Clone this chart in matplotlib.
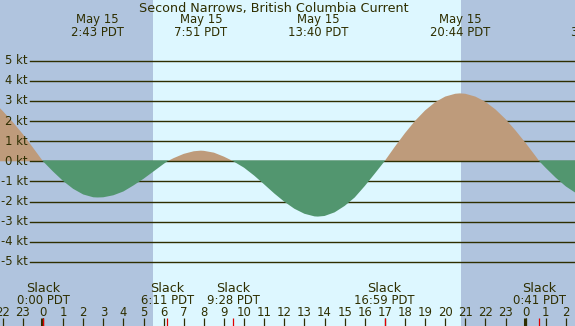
"""Tidal current chart: Second Narrows, British Columbia, May 15."""

import matplotlib

matplotlib.use("Agg")
import matplotlib.pyplot as plt
import numpy as np

# --- data (hours from May 15 00:00 PDT, current in knots) -----------------
TIME_H = [
    -2.5, -2.0, -1.5, -1.0, -0.5, 0.0, 0.5, 1.0, 1.5, 2.0, 2.5, 2.717,
    3.0, 3.5, 4.0, 4.5, 5.0, 5.5, 6.0, 6.183, 6.5, 7.0, 7.5, 7.85,
    8.0, 8.5, 9.0, 9.467, 10.0, 10.5, 11.0, 11.5, 12.0, 12.5, 13.0, 13.5,
    13.667, 14.0, 14.5, 15.0, 15.5, 16.0, 16.5, 16.983, 17.5, 18.0, 18.5,
    19.0, 19.5, 20.0, 20.5, 20.733, 21.0, 21.5, 22.0, 22.5, 23.0, 23.5,
    24.0, 24.5, 24.683, 25.0, 25.5, 26.0, 26.5, 27.0,
]
CURRENT_KT = [
    3.00, 2.50, 1.95, 1.35, 0.68, 0.00, -0.51, -0.98, -1.37, -1.65, -1.79, -1.80,
    -1.79, -1.69, -1.50, -1.20, -0.87, -0.50, -0.13, 0.00, 0.16, 0.37, 0.50, 0.53,
    0.52, 0.43, 0.23, 0.00, -0.32, -0.71, -1.15, -1.60, -2.01, -2.36, -2.61, -2.74,
    -2.75, -2.72, -2.54, -2.22, -1.80, -1.23, -0.61, 0.00, 0.73, 1.40, 2.01,
    2.53, 2.94, 3.22, 3.36, 3.38, 3.36, 3.22, 2.96, 2.58, 2.10, 1.53,
    0.91, 0.25, 0.00, -0.33, -0.82, -1.25, -1.58, -1.79,
]

# max / min current events (top labels)
EXTREME_H = [2.717, 7.85, 13.667, 20.733, 27.55]
EXTREME_DATE = ["May 15", "May 15", "May 15", "May 15", "May 16"]
EXTREME_TIME = ["2:43 PDT", "7:51 PDT", "13:40 PDT", "20:44 PDT", "3:33 PDT"]

# slack water events (bottom labels)
SLACK_H = [0.0, 6.183, 9.467, 16.983, 24.683]
SLACK_TIME = ["0:00 PDT", "6:11 PDT", "9:28 PDT", "16:59 PDT", "0:41 PDT"]

HOUR_TICKS = list(range(-2, 27))
HOUR_LABELS = ["22", "23"] + [str(h) for h in range(24)] + ["0", "1", "2"]
MIDNIGHTS = [0, 24]

SUNRISE_H = 5.455
SUNSET_H = 20.786

GRID_KT = [5, 4, 3, 2, 1, 0, -1, -2, -3, -4, -5]
GRID_LABELS = ["5 kt", "4 kt", "3 kt", "2 kt", "1 kt", "0 kt",
               "-1 kt", "-2 kt", "-3 kt", "-4 kt", "-5 kt"]

TITLE = "Second Narrows, British Columbia Current"

# --- layout (pixel geometry of the 575x326 canvas) --------------------------
W, H = 575, 326
X0_PX, PX_PER_HR = 43.0, 20.11
Y0_PX, PX_PER_KT = 161.3, 20.1

NIGHT = "#B0C4DE"
DAY = "#DDF7FF"
EBB = "#BE9B7B"
FLOOD = "#52966F"
INK = "#2E2E00"
FS = 8.4          # digits-heavy labels
FS_WORDS = 9.2    # title / "Slack" (reference letters run a bit wider)


def px_to_kt(py):
    return (Y0_PX - py) / PX_PER_KT


def main():
    fig = plt.figure(figsize=(W / 100, H / 100), dpi=100)
    ax = fig.add_axes((0, 0, 1, 1))
    xmin, xmax = -X0_PX / PX_PER_HR, (W - X0_PX) / PX_PER_HR
    ax.set_xlim(xmin, xmax)
    ax.set_ylim(px_to_kt(H), px_to_kt(0))
    ax.axis("off")

    # day / night bands
    ax.axvspan(xmin, SUNRISE_H, color=NIGHT, lw=0, zorder=0)
    ax.axvspan(SUNRISE_H, SUNSET_H, color=DAY, lw=0, zorder=0)
    ax.axvspan(SUNSET_H, xmax, color=NIGHT, lw=0, zorder=0)

    # grid lines and knot labels
    for k, lab in zip(GRID_KT, GRID_LABELS):
        ax.axhline(k, xmin=30 / W, xmax=1, color=INK, lw=1.0,
                   zorder=1 if k != 0 else 2.5)
        ax.text(-0.75, k, lab, ha="right", va="center", fontsize=FS,
                color=INK, zorder=5)

    t = np.array(TIME_H)
    v = np.array(CURRENT_KT)
    ax.fill_between(t, v, 0, where=v >= 0, interpolate=True,
                    color=EBB, lw=0, zorder=2)
    # flood fill reaches just over the zero line so it hides it, as in XTide
    ax.fill_between(t, v, 0.045, where=v <= 0.045, interpolate=True,
                    color=FLOOD, lw=0, zorder=3)

    # title + extreme labels
    fig.text(274 / W, 1 - 12 / H, TITLE, ha="center", va="baseline",
             fontsize=FS_WORDS, color=INK)
    for x, d, tm in zip(EXTREME_H, EXTREME_DATE, EXTREME_TIME):
        ax.text(x, px_to_kt(23.5), d, ha="center", va="baseline",
                fontsize=FS, color=INK)
        ax.text(x, px_to_kt(35.5), tm, ha="center", va="baseline",
                fontsize=FS, color=INK)

    # slack labels
    for x, tm in zip(SLACK_H, SLACK_TIME):
        ax.text(x, px_to_kt(292.5), "Slack", ha="center", va="baseline",
                fontsize=FS_WORDS, color=INK)
        ax.text(x, px_to_kt(304), tm, ha="center", va="baseline",
                fontsize=FS, color=INK)

    # hour axis
    for h, lab in zip(HOUR_TICKS, HOUR_LABELS):
        ax.text(h, px_to_kt(316), lab, ha="center", va="baseline",
                fontsize=FS, color=INK)
    ax.vlines(HOUR_TICKS, px_to_kt(326), px_to_kt(318), color=INK,
              lw=0.9, zorder=4)
    ax.vlines([m - 0.05 for m in MIDNIGHTS], px_to_kt(326), px_to_kt(318),
              color=INK, lw=2.2, zorder=4)
    ax.vlines(SLACK_H, px_to_kt(326), px_to_kt(318), color="#E00000",
              lw=0.9, zorder=5)

    fig.savefig("out.png", dpi=100)
    plt.close(fig)


if __name__ == "__main__":
    main()
